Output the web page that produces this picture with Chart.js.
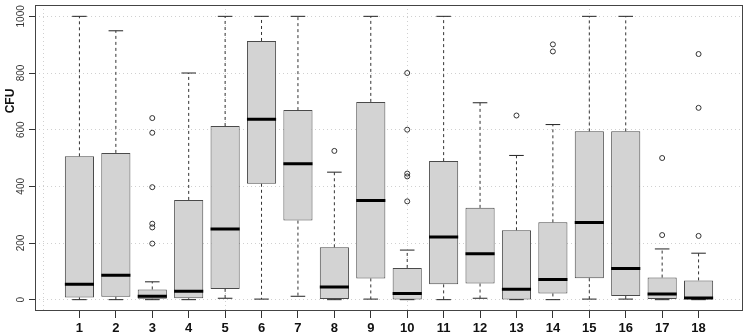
<!DOCTYPE html>
<html>
<head>
<meta charset="utf-8">
<script src="https://cdn.jsdelivr.net/npm/chart.js@4.4.1/dist/chart.umd.min.js"></script>
<style>
	html, body { margin:0; padding:0; background:#fff; }
	#wrap { width:748px; height:334px; }
</style>
</head>
<body>
<div id="wrap"><canvas id="chart" width="748" height="334"></canvas></div>
<script>
// CFU per sample group
const groups = [1, 2, 3, 4, 5, 6, 7, 8, 9, 10, 11, 12, 13, 14, 15, 16, 17, 18];
const whiskerLow = [0, 0, 0, 0, 5, 2, 12, 0, 2, 0, 0, 5, 0, 0, 2, 2, 0, 0];
const lowerQuartile = [8, 10, 3, 5, 38, 409, 279, 2, 75, 1, 54, 57, 1, 22, 76, 13, 2, 2];
const medians = [54, 86, 12, 30, 249, 637, 480, 45, 350, 22, 221, 162, 37, 71, 272, 110, 20, 6];
const upperQuartile = [506, 518, 36, 352, 613, 913, 669, 185, 698, 112, 489, 324, 245, 273, 594, 594, 78, 68];
const whiskerHigh = [1000, 949, 63, 800, 1000, 1000, 1000, 450, 1000, 175, 1000, 695, 509, 618, 1000, 1000, 179, 164];
const outliers = [
	[], [], [641, 589, 397, 268, 255, 198], [], [], [], [], [525], [],
	[800, 600, 445, 435, 347], [], [], [650], [901, 876], [], [], [500, 228], [867, 677, 225]
];
const yTicks = [0, 200, 400, 600, 800, 1000];
const gridX = [0, 5, 10, 15];

const boxHalf = 0.4, capHalf = 0.2;
const xMin = -0.22, xMax = 19.22;
const font = "'Liberation Sans', Arial, sans-serif";

// builds one line dataset out of many short segments, split by null points
const segments = function(fn){
	let pts = [];
	groups.forEach((g, i) => {
		fn(g, i).forEach(seg => { pts.push(...seg, {x:g, y:null}); });
	});
	return pts;
};

const frame = {
	id:"frame",
	afterDraw(chart){
		const ctx = chart.ctx, a = chart.chartArea;
		ctx.save();
		ctx.strokeStyle = "#444";
		ctx.lineWidth = 1;
		ctx.strokeRect(Math.round(a.left) + 0.5, Math.round(a.top) + 0.5, Math.round(a.right - a.left) - 1, Math.round(a.bottom - a.top) - 1);
		ctx.translate(11, 101);
		ctx.rotate(-Math.PI / 2);
		ctx.fillStyle = "#111";
		ctx.font = "bold 12px " + font;
		ctx.textAlign = "center";
		ctx.textBaseline = "middle";
		ctx.fillText("CFU", 0, 0);
		ctx.restore();
	}
};

const noPad = s => { s.paddingTop = 0; s.paddingBottom = 0; s.paddingLeft = 0; s.paddingRight = 0; };

new Chart(document.getElementById("chart"), {
	type:"bar",
	data:{
		datasets:[{
			label:"box",
			data: groups.map((g, i) => ({x:g, y:[lowerQuartile[i], upperQuartile[i]]})),
			backgroundColor:"#d3d3d3",
			borderColor:"#4a4a4a",
			borderWidth:1,
			borderSkipped:false,
			barPercentage:0.8,
			categoryPercentage:1,
			order:3
		},
		{
			label:"whiskers",
			type:"line",
			data: segments((g, i) => [
				[{x:g, y:upperQuartile[i]}, {x:g, y:whiskerHigh[i]}],
				[{x:g, y:lowerQuartile[i]}, {x:g, y:whiskerLow[i]}]
			]),
			borderColor:"#333",
			borderWidth:1,
			borderDash:[3, 3],
			pointRadius:0,
			spanGaps:false,
			order:2
		},
		{
			label:"caps",
			type:"line",
			data: segments((g, i) => [
				[{x:g - capHalf, y:whiskerHigh[i]}, {x:g + capHalf, y:whiskerHigh[i]}],
				[{x:g - capHalf, y:whiskerLow[i]}, {x:g + capHalf, y:whiskerLow[i]}]
			]),
			borderColor:"#222",
			borderWidth:1,
			pointRadius:0,
			spanGaps:false,
			order:2
		},
		{
			label:"median",
			type:"line",
			data: segments((g, i) => [
				[{x:g - boxHalf, y:medians[i]}, {x:g + boxHalf, y:medians[i]}]
			]),
			borderColor:"#000",
			borderWidth:3,
			borderCapStyle:"butt",
			pointRadius:0,
			spanGaps:false,
			order:1
		},
		{
			label:"outliers",
			type:"scatter",
			data: groups.flatMap((g, i) => outliers[i].map(v => ({x:g, y:v}))),
			pointStyle:"circle",
			pointRadius:2.5,
			backgroundColor:"rgba(0,0,0,0)",
			borderColor:"#333",
			borderWidth:1,
			order:0
		}]
	},
	options:{
		responsive:false,
		animation:false,
		devicePixelRatio:1,
		layout:{ padding:{top:1, right:2, left:0, bottom:0} },
		plugins:{ legend:{display:false}, tooltip:{enabled:false} },
		scales:{
			x:{
				type:"linear",
				position:"bottom",
				min:xMin,
				max:xMax,
				offset:false,
				afterBuildTicks: s => { s.ticks = groups.map(v => ({value:v})); },
				afterFit: s => { s.height = 23; noPad(s); },
				ticks:{
					autoSkip:false,
					maxRotation:0,
					padding:3,
					color:"#111",
					font:{family:font, size:13, weight:"bold"},
					callback: v => String(v)
				},
				grid:{ drawOnChartArea:false, offset:false, tickLength:7, tickColor:"#333" },
				border:{ display:false }
			},
			xg:{
				type:"linear",
				position:"bottom",
				min:xMin,
				max:xMax,
				offset:false,
				z:1,
				afterBuildTicks: s => { s.ticks = gridX.map(v => ({value:v})); },
				afterFit: s => { s.height = 0; noPad(s); },
				ticks:{ display:false },
				grid:{ drawTicks:false, offset:false, color:"#d0d0d0" },
				border:{ display:false, dash:[1, 3] }
			},
			y:{
				min:-40,
				max:1040,
				z:1,
				afterBuildTicks: s => { s.ticks = yTicks.map(v => ({value:v})); },
				afterFit: s => { s.width = 35; noPad(s); },
				ticks:{
					minRotation:90,
					maxRotation:90,
					crossAlign:"center",
					padding:-3,
					color:"#333",
					font:{family:font, size:10},
					callback: v => String(v)
				},
				grid:{ color:"#d0d0d0", tickColor:"#333", tickLength:6 },
				border:{ display:false, dash:[1, 3] }
			}
		}
	},
	plugins:[frame]
});
</script>
</body>
</html>
